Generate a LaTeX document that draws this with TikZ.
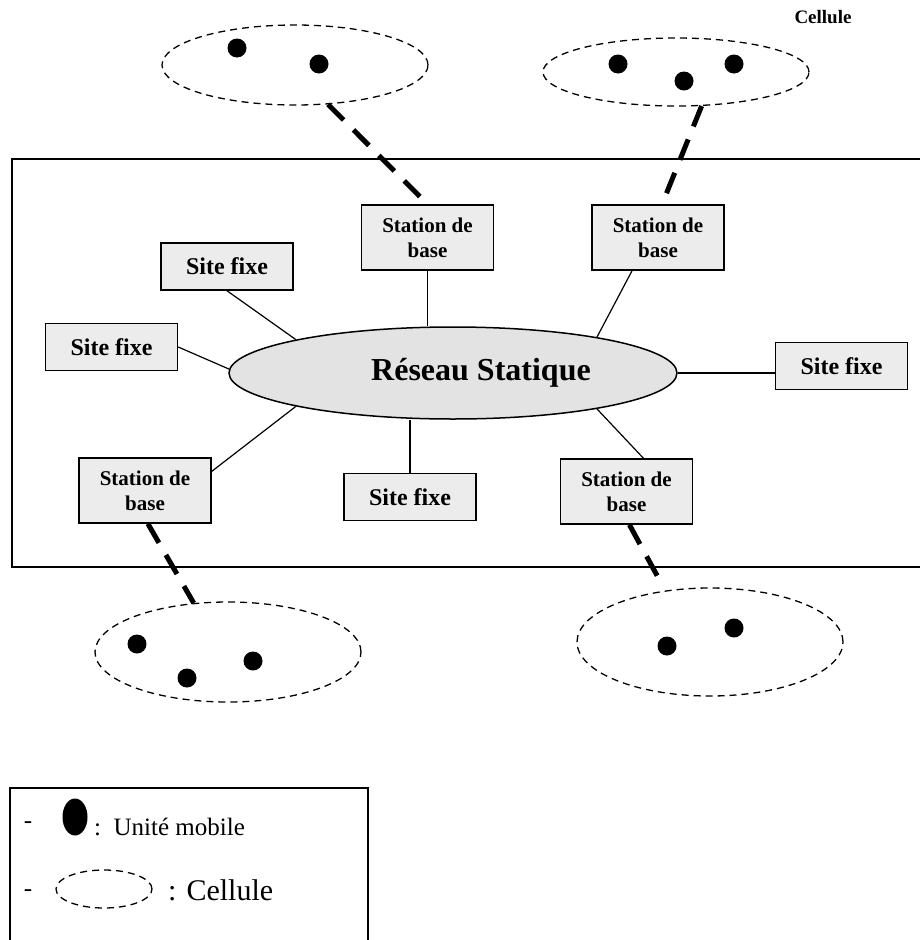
\documentclass[tikz,border=0pt]{standalone}
\usepackage{fontspec}
\setmainfont{Liberation Serif}
\usetikzlibrary{shapes.geometric,calc}
\begin{document}
\begin{tikzpicture}[x=1pt,y=-1pt,
  site/.style={draw=black,line width=1.5pt,fill=gray!15,minimum width=132pt,minimum height=47pt,
    inner sep=0pt,font=\fontsize{24}{28}\selectfont\bfseries},
  station/.style={draw=black,line width=1.5pt,fill=gray!15,minimum width=132pt,minimum height=65pt,
    inner sep=0pt,align=center,font=\fontsize{21}{25}\selectfont\bfseries},
  link/.style={line width=1.2pt},
  radio/.style={line width=5pt,dash pattern=on 22pt off 14pt},
  cell/.style={ellipse,draw=black,line width=1.3pt,dash pattern=on 7pt off 5pt,
    minimum width=266pt,inner sep=0pt},
  unit/.style={circle,fill=black,minimum size=19pt,inner sep=0pt},
  frame/.style={line width=2.5pt},
]
\useasboundingbox (0,0) rectangle (920,940);

% static network area
\draw[frame] (920,159) -- (12,159) -- (12,567) -- (920,567);

\node[ellipse,draw=black,line width=1.5pt,fill=gray!22,minimum width=448pt,minimum height=92pt,
  inner sep=0pt] (net) at (453,373) {};
\node[font=\fontsize{32}{36}\selectfont\bfseries,inner sep=0pt] (netlabel) at (481,373) {Réseau Statique};

% fixed sites and base stations
\node[site] (sf1) at (227,266.5) {Site fixe};
\node[site] (sf2) at (111.5,347) {Site fixe};
\node[site] (sf3) at (841.5,366) {Site fixe};
\node[site] (sf4) at (410,497) {Site fixe};
\node[station] (sb1) at (427.5,237.5) {Station de\\base};
\node[station] (sb2) at (658,237.5) {Station de\\base};
\node[station] (sb3) at (145,490.5) {Station de\\base};
\node[station] (sb4) at (626.5,491.5) {Station de\\base};

% wired links to the static network
\draw[link] (sf1.south) -- (net.168);
\draw[link] (sf2.east) -- (net.179);
\draw[link] (sb1.south) -- (sb1.south |- net.north);
\draw[link] (sb2.232) -- (net.14);
\draw[link] (net.east) -- (net.east -| sf3.west);
\draw[link] (sf4.north) -- (sf4.north |- net.south);
\draw[link] (sb3.16) -- (net.192);
\draw[link] (net.346) -- (sb4.63);

% cells with their mobile units
\node[cell,minimum height=80pt] (c1) at (295,65) {};
\node[cell,minimum height=68pt] (c2) at (676,72) {};
\node[cell,minimum height=100pt] (c3) at (228,652) {};
\node[cell,minimum height=108pt] (c4) at (710,642) {};

\node[unit] (u1) at (237,48) {};
\node[unit] (u2) at (319,64) {};
\node[unit] (u3) at (618,64) {};
\node[unit] (u4) at (684,81) {};
\node[unit] (u5) at (734,64) {};
\node[unit] (u6) at (137,644) {};
\node[unit] (u7) at (187,678) {};
\node[unit] (u8) at (253,661) {};
\node[unit] (u9) at (667,646) {};
\node[unit] (u10) at (734,628) {};

% radio links between base stations and cells
\draw[radio] (c1.310) -- (sb1.north);
\draw[radio] (c2.307) -- (sb2.83);
\draw[radio] (sb3.275) -- (c3.125);
\draw[radio, shorten >=14pt] (sb4.275) -- (c4.131);

\node[font=\fontsize{19}{22}\selectfont\bfseries] (title) at (823,17) {Cellule};

% legend
\draw[line width=2pt] (10,940) -- (10,788) -- (368,788) -- (368,940);
\node[font=\fontsize{25}{28}\selectfont] (d1) at (28,825) {-};
\node[ellipse,fill=black,minimum width=25pt,minimum height=37pt,inner sep=0pt] (lu) at (75,817) {};
\node[font=\fontsize{25}{28}\selectfont,anchor=base west,inner sep=0pt] (lut) at (94,835) {:\ \ Unité mobile};
\node[font=\fontsize{25}{28}\selectfont] (d2) at (28,893) {-};
\node[ellipse,draw=black,line width=1.3pt,dash pattern=on 7pt off 5pt,minimum width=96pt,minimum height=38pt,inner sep=0pt] (lc) at (104,889) {};
\node[font=\fontsize{30}{34}\selectfont,anchor=base west,inner sep=0pt] (lct) at (168,900) {: Cellule};
\end{tikzpicture}
\end{document}
